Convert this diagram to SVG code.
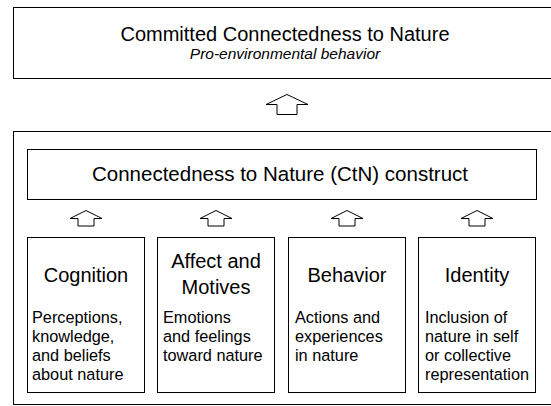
<svg xmlns="http://www.w3.org/2000/svg" width="551" height="406" viewBox="0 0 551 406">
<style>
.box{fill:#fff;stroke:#000;stroke-width:1}
.arr{fill:#fff;stroke:#000;stroke-width:1;stroke-linejoin:miter}
.t{font-family:"Liberation Sans",Arial,sans-serif;fill:#000}
.h{font-size:20px;text-anchor:middle}
.b{font-size:16.3px}
.i{font-size:15.5px;font-style:italic;text-anchor:middle}
</style>
<rect width="551" height="406" fill="#fff"/>
<g id="outer">
<rect class="box" x="13.5" y="131.5" width="545" height="273"/>
</g>
<g id="committed">
<rect class="box" x="13.5" y="7.5" width="545" height="71"/>
<text class="t h" x="285" y="41">Committed Connectedness to Nature</text>
<text class="t i" x="285" y="59">Pro-environmental behavior</text>
</g>
<g id="ctn">
<rect class="box" x="27.5" y="149.5" width="509" height="50"/>
<text class="t h" x="280" y="181" style="font-size:20.5px">Connectedness to Nature (CtN) construct</text>
</g>
<g id="cognition">
<rect class="box" x="27.5" y="237.5" width="117" height="155"/>
<text class="t h" x="86" y="282">Cognition</text>
<text class="t b" x="32" y="323">Perceptions,</text>
<text class="t b" x="32" y="342">knowledge,</text>
<text class="t b" x="32" y="361">and beliefs</text>
<text class="t b" x="32" y="380">about nature</text>
</g>
<g id="affect">
<rect class="box" x="157.5" y="237.5" width="117" height="155"/>
<text class="t h" x="216" y="268">Affect and</text>
<text class="t h" x="216" y="294">Motives</text>
<text class="t b" x="163" y="323">Emotions</text>
<text class="t b" x="163" y="342">and feelings</text>
<text class="t b" x="163" y="361">toward nature</text>
</g>
<g id="behavior">
<rect class="box" x="288.5" y="237.5" width="117" height="155"/>
<text class="t h" x="347" y="282">Behavior</text>
<text class="t b" x="295" y="323">Actions and</text>
<text class="t b" x="295" y="342">experiences</text>
<text class="t b" x="295" y="361">in nature</text>
</g>
<g id="identity">
<rect class="box" x="418.5" y="237.5" width="117" height="155"/>
<text class="t h" x="477" y="282">Identity</text>
<text class="t b" x="425" y="323">Inclusion of</text>
<text class="t b" x="425" y="342">nature in self</text>
<text class="t b" x="425" y="361">or collective</text>
<text class="t b" x="425" y="380">representation</text>
</g>
<g id="connectors">
<polygon class="arr" points="287,94.5 308,104.5 297,104.5 297,114.5 277,114.5 277,104.5 266,104.5"/>
<polygon class="arr" points="86,210.5 102,218.5 94,218.5 94,226 78,226 78,218.5 70,218.5"/>
<polygon class="arr" points="216,210.5 232,218.5 224,218.5 224,226 208,226 208,218.5 200,218.5"/>
<polygon class="arr" points="347,210.5 363,218.5 355,218.5 355,226 339,226 339,218.5 331,218.5"/>
<polygon class="arr" points="477,210.5 493,218.5 485,218.5 485,226 469,226 469,218.5 461,218.5"/>
</g>
</svg>
